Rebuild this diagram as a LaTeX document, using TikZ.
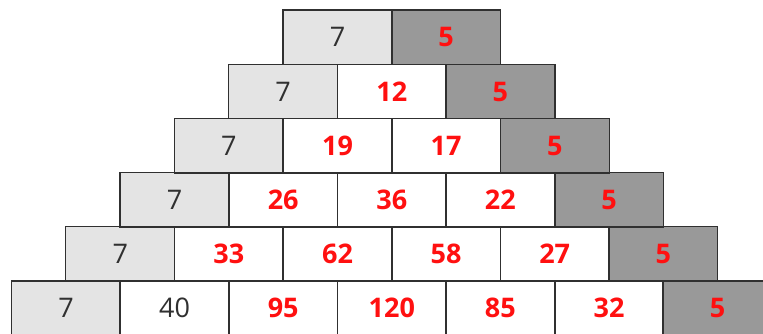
\documentclass[tikz,border=0pt]{standalone}
\usepackage{fontspec}
\setmainfont{Open Sans}
\definecolor{lightc}{HTML}{E4E4E4}
\definecolor{darkc}{HTML}{999999}
\definecolor{linec}{HTML}{303030}
\definecolor{redc}{HTML}{FF1010}
\definecolor{textc}{HTML}{303030}
\tikzset{
  cell/.style={minimum width=108.6pt, minimum height=54.2pt,
    inner sep=0pt, anchor=north west, font=\fontsize{27}{30}\selectfont},
  plain/.style={cell, fill=white, text=textc},
  sum/.style={cell, fill=white, text=redc, font=\fontsize{27}{30}\selectfont\bfseries},
  leftc/.style={cell, fill=lightc, text=textc},
  rightc/.style={cell, fill=darkc, text=redc, font=\fontsize{27}{30}\selectfont\bfseries},
  border/.style={draw=linec, line width=1.3pt}
}
\begin{document}
\begin{tikzpicture}[x=1pt,y=1pt]
\useasboundingbox (0,0) rectangle (763,334);
\def\W{108.6}
\def\H{54.2}
% row 0
\node[leftc]  (c00) at (283,324) {7};
\node[rightc] (c01) at (283+\W,324) {5};
% row 1
\node[leftc]  (c10) at (283-0.5*\W,324-\H) {7};
\node[sum]    (c11) at (283+0.5*\W,324-\H) {12};
\node[rightc] (c12) at (283+1.5*\W,324-\H) {5};
% row 2
\node[leftc]  (c20) at (283-1*\W,324-2*\H) {7};
\node[sum]    (c21) at (283+0*\W,324-2*\H) {19};
\node[sum]    (c22) at (283+1*\W,324-2*\H) {17};
\node[rightc] (c23) at (283+2*\W,324-2*\H) {5};
% row 3
\node[leftc]  (c30) at (283-1.5*\W,324-3*\H) {7};
\node[sum]    (c31) at (283-0.5*\W,324-3*\H) {26};
\node[sum]    (c32) at (283+0.5*\W,324-3*\H) {36};
\node[sum]    (c33) at (283+1.5*\W,324-3*\H) {22};
\node[rightc] (c34) at (283+2.5*\W,324-3*\H) {5};
% row 4
\node[leftc]  (c40) at (283-2*\W,324-4*\H) {7};
\node[sum]    (c41) at (283-1*\W,324-4*\H) {33};
\node[sum]    (c42) at (283+0*\W,324-4*\H) {62};
\node[sum]    (c43) at (283+1*\W,324-4*\H) {58};
\node[sum]    (c44) at (283+2*\W,324-4*\H) {27};
\node[rightc] (c45) at (283+3*\W,324-4*\H) {5};
% row 5
\node[leftc]  (c50) at (283-2.5*\W,324-5*\H) {7};
\node[plain]  (c51) at (283-1.5*\W,324-5*\H) {40};
\node[sum]    (c52) at (283-0.5*\W,324-5*\H) {95};
\node[sum]    (c53) at (283+0.5*\W,324-5*\H) {120};
\node[sum]    (c54) at (283+1.5*\W,324-5*\H) {85};
\node[sum]    (c55) at (283+2.5*\W,324-5*\H) {32};
\node[rightc] (c56) at (283+3.5*\W,324-5*\H) {5};
% borders
\foreach \n in {c00,c01,c10,c11,c12,c20,c21,c22,c23,c30,c31,c32,c33,c34,
  c40,c41,c42,c43,c44,c45,c50,c51,c52,c53,c54,c55,c56}
  \draw[border] (\n.north west) rectangle (\n.south east);
\end{tikzpicture}
\end{document}
